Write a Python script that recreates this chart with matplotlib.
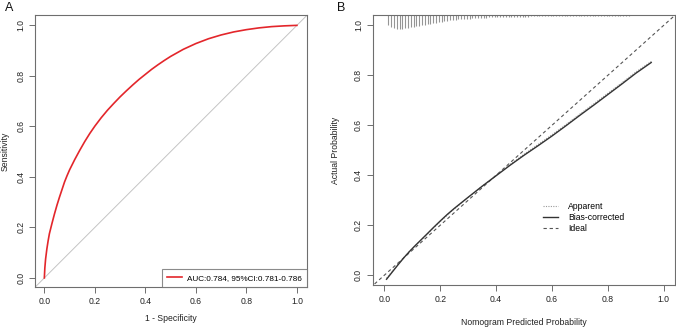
import matplotlib
matplotlib.use("Agg")
import matplotlib.pyplot as plt
from matplotlib.lines import Line2D

plt.rcParams['font.family'] = ['Liberation Sans', 'DejaVu Sans']

# ---- Panel A: ROC data ----
roc_fpr = [0, 0.002, 0.005, 0.01, 0.015, 0.02, 0.03, 0.04, 0.05, 0.06, 0.07, 0.08, 0.09,
           0.1, 0.12, 0.14, 0.16, 0.18, 0.2, 0.225, 0.25, 0.275, 0.3, 0.325, 0.35, 0.375,
           0.4, 0.425, 0.45, 0.475, 0.5, 0.55, 0.6, 0.65, 0.7, 0.75, 0.8, 0.85, 0.9, 0.95, 1.0]
roc_tpr = [0, 0.04, 0.075, 0.115, 0.147, 0.175, 0.215, 0.253, 0.288, 0.32, 0.35, 0.38, 0.405,
           0.428, 0.468, 0.505, 0.54, 0.572, 0.601, 0.634, 0.664, 0.691, 0.717, 0.741, 0.764,
           0.786, 0.806, 0.826, 0.844, 0.861, 0.877, 0.905, 0.928, 0.947, 0.962, 0.974,
           0.983, 0.99, 0.995, 0.998, 1.0]
roc_label = "AUC:0.784, 95%CI:0.781-0.786"

# ---- Panel B: calibration data ----
cal_pred = [0.008, 0.03, 0.05, 0.07, 0.09, 0.11, 0.13, 0.15, 0.175, 0.2, 0.225, 0.25,
            0.3, 0.35, 0.4, 0.45, 0.5, 0.55, 0.6, 0.65, 0.7, 0.75, 0.8, 0.85, 0.9, 0.955]
cal_bias = [-0.016, 0.015, 0.043, 0.070, 0.095, 0.118, 0.140, 0.162, 0.190, 0.217, 0.243,
            0.267, 0.312, 0.356, 0.398, 0.440, 0.480, 0.518, 0.557, 0.598, 0.640, 0.681,
            0.723, 0.765, 0.808, 0.851]
cal_apparent = [-0.012, 0.018, 0.045, 0.071, 0.095, 0.117, 0.139, 0.160, 0.188, 0.214, 0.240,
                0.265, 0.311, 0.356, 0.400, 0.443, 0.484, 0.523, 0.562, 0.603, 0.645, 0.686,
                0.728, 0.770, 0.813, 0.855]

rug_x = [0.015 + 0.01 * i for i in range(95)]
rug_h = [10, 12, 13, 14, 14, 13.5, 13, 12.5, 12, 11.5, 11, 10.5, 10, 9.5, 9, 8.5, 8, 7.5,
         7, 6.6, 6.2, 5.8, 5.4, 5.0, 4.7, 4.4, 4.1, 3.9, 3.7, 3.5, 3.3, 3.1, 3.0, 2.8,
         2.6, 2.5, 2.4, 2.3, 2.2, 2.1, 2.0, 1.95, 1.9, 1.85, 1.8, 1.75, 1.7, 1.65, 1.6,
         1.55, 1.5, 1.45, 1.4, 1.35, 1.3, 1.3, 1.25, 1.2, 1.2, 1.15, 1.1, 1.1, 1.05, 1.0,
         1.0, 1.0, 0.95, 0.9, 0.9, 0.9, 0.85, 0.8, 0.8, 0.8, 0.75, 0.7, 0.7, 0.7, 0.65,
         0.6, 0.6, 0.6, 0.55, 0.5, 0.5, 0.5, 0.5, 0.45, 0.4, 0.4, 0.4, 0.4, 0.35, 0.3, 0.3]

ticks = [0.0, 0.2, 0.4, 0.6, 0.8, 1.0]
tick_labels = ["0.0", "0.2", "0.4", "0.6", "0.8", "1.0"]

W, H = 676, 329
fig = plt.figure(figsize=(W / 100, H / 100), dpi=100)

edge = '#6e6e6e'
fs = 6.2


def style(ax):
    for s in ax.spines.values():
        s.set_color(edge)
        s.set_linewidth(0.8)
    ax.set_xticks(ticks)
    ax.set_xticklabels(tick_labels)
    ax.set_yticks(ticks)
    ax.set_yticklabels(tick_labels, rotation=90, va='center')
    ax.tick_params(direction='out', length=4, width=0.7, color=edge,
                   labelsize=fs, labelcolor='#222222', pad=3)


# Panel A
axA = fig.add_axes([35 / W, (H - 287) / H, 272 / W, 272 / H])
axA.set_xlim(-0.037, 1.04)
axA.set_ylim(-0.036, 1.041)
axA.plot([-0.05, 1.05], [-0.05, 1.05], color='#c4c4c4', lw=0.7, zorder=1)
axA.plot(roc_fpr, roc_tpr, color='#e3262b', lw=1.2, label=roc_label, zorder=3,
         solid_joinstyle='round')
style(axA)
axA.set_xlabel("1 - Specificity", fontsize=fs, labelpad=6, color='#222222')
axA.set_ylabel("Sensitivity", fontsize=fs, color='#222222')
axA.yaxis.set_label_coords(-0.094, 0.5)
legA = axA.legend(loc='lower right', borderaxespad=0, fancybox=False, fontsize=5.9,
                  edgecolor=edge, handlelength=1.9, handletextpad=0.6,
                  borderpad=0.6)
legA.get_frame().set_linewidth(0.8)
fig.text(5 / W, 1 - 11 / H, "A", fontsize=9, color='#111111')

# Panel B
axB = fig.add_axes([372.7 / W, 44 / H, 302 / W, 270 / H])
axB.set_xlim(-0.0415, 1.039)
axB.set_ylim(-0.039, 1.041)
axB.plot([-0.1, 1.1], [-0.1, 1.1], color='#555555', lw=0.8, ls=(0, (3, 2.5)), zorder=2)
axB.plot(cal_pred, cal_apparent, color='#999999', lw=0.8, ls=(0, (1, 1.2)), zorder=2)
axB.plot(cal_pred, cal_bias, color='#333333', lw=1.0, zorder=3, solid_joinstyle='round')
top = 1.041
scale = 1.0 / 250.0
for xv, hv in zip(rug_x, rug_h):
    axB.plot([xv, xv], [top, top - hv * scale], color='#959595', lw=0.8,
             solid_capstyle='butt', zorder=1)
style(axB)
axB.set_xlabel("Nomogram Predicted Probability", fontsize=fs, labelpad=10, color='#222222')
axB.set_ylabel("Actual Probability", fontsize=fs, color='#222222')
axB.yaxis.set_label_coords(-0.108, 0.5)
handles = [Line2D([], [], color='#999999', lw=0.8, ls=(0, (1, 1.2))),
           Line2D([], [], color='#333333', lw=1.0),
           Line2D([], [], color='#555555', lw=0.8, ls=(0, (3, 2.5)))]
legB = axB.legend(handles, ["Apparent", "Bias-corrected", "Ideal"], frameon=False,
                  fontsize=fs, loc='upper left',
                  bbox_to_anchor=(543 / W, 1 - 202 / H), bbox_transform=fig.transFigure,
                  handlelength=1.7, handletextpad=1.2, labelspacing=0.25,
                  borderaxespad=0, borderpad=0)
fig.text(337 / W, 1 - 11 / H, "B", fontsize=9, color='#111111')

fig.savefig("out.png", dpi=100)
